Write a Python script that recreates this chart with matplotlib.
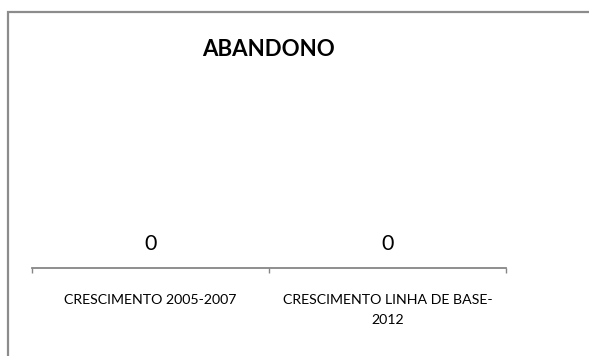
import matplotlib.pyplot as plt
from matplotlib.patches import Rectangle

plt.rcParams['font.family'] = ['Lato', 'DejaVu Sans']

categorias = ['CRESCIMENTO 2005-2007', 'CRESCIMENTO LINHA DE BASE-\n2012']
valores = [0, 0]
titulo = 'ABANDONO'

W, H = 589, 356
fig = plt.figure(figsize=(W / 100, H / 100), dpi=100)

# moldura do gráfico (cortada à direita e em baixo)
fig.patches.append(Rectangle((8 / W, -0.1), 1.2, 1.1 - 12 / H,
                             transform=fig.transFigure, fill=False,
                             edgecolor='#8c8c8c', linewidth=1.6))

ax = fig.add_axes([32 / W, 88 / H, (506 - 32) / W, 150 / H])
x = range(len(categorias))
bars = ax.bar(x, valores, width=0.6, color='#4f81bd')
ax.set_xlim(-0.5, len(categorias) - 0.5)
ax.set_ylim(0, 1)

for b, v in zip(bars, valores):
    ax.annotate(str(v), (b.get_x() + b.get_width() / 2, v), xytext=(0, 10),
                textcoords='offset points', ha='center', va='bottom',
                fontsize=15.5, color='black')

for s in ['top', 'right', 'left']:
    ax.spines[s].set_visible(False)
ax.spines['bottom'].set_color('#868686')
ax.spines['bottom'].set_linewidth(1.3)
ax.set_yticks([])
ax.set_xticks([i - 0.5 for i in range(len(categorias) + 1)])
ax.set_xticklabels([])
ax.tick_params(axis='x', length=3.5, width=1, color='#868686')

for i, c in enumerate(categorias):
    ax.annotate(c, (i, 0), xytext=(0, -19), textcoords='offset points',
                ha='center', va='top', fontsize=10.2, linespacing=1.8)

fig.text(268 / W, 1 - 49.5 / H, titulo, ha='center', va='center',
         fontsize=16, fontweight='bold')

fig.savefig('out.png', dpi=100)
